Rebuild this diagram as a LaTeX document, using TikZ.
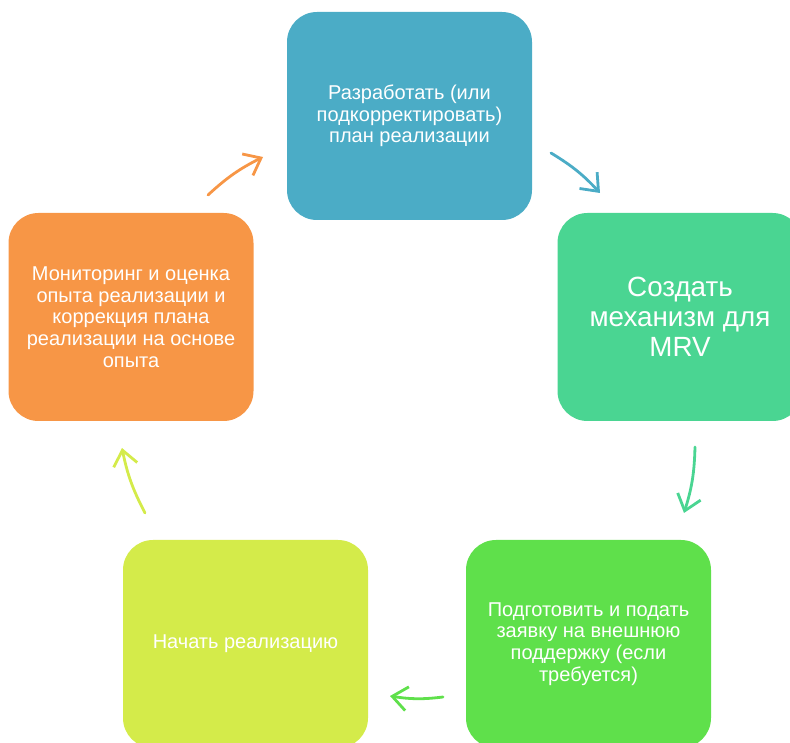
\documentclass[tikz,border=0pt]{standalone}
\usepackage{fontspec}
\setmainfont{Liberation Sans}
\usetikzlibrary{arrows.meta}
\definecolor{cblue}{HTML}{4BACC6}
\definecolor{cmrv}{HTML}{4AD592}
\definecolor{cgreen}{HTML}{5FE04B}
\definecolor{clime}{HTML}{D4EB4A}
\definecolor{corange}{HTML}{F79646}
\tikzset{
  stepbox/.style={rounded corners=30pt, minimum width=245pt, minimum height=208pt,
    inner sep=0pt, align=center, text=white, font=\fontsize{20}{21.7}\selectfont},
  cyc/.style={line width=2.8pt, line cap=round, line join=round,
    -{Straight Barb[length=15pt,width=24pt,line width=2.8pt]}, bend left=8}
}
\begin{document}
\begin{tikzpicture}[x=1pt,y=1pt]
\clip (0,0) rectangle (790,742);
\node[stepbox, fill=cblue] (plan) at (409.5,626) {Разработать (или\\подкорректировать)\\план реализации};
\node[stepbox, fill=cmrv, font=\fontsize{27.8}{30}\selectfont] (mrv) at (680,425) {Создать\\механизм для\\MRV};
\node[stepbox, fill=cgreen] (apply) at (588.5,98) {Подготовить и подать\\заявку на внешнюю\\поддержку (если\\требуется)};
\node[stepbox, fill=clime] (start) at (245.5,98) {Начать реализацию};
\node[stepbox, fill=corange] (mon) at (131,425) {Мониторинг и оценка\\опыта реализации и\\коррекция плана\\реализации на основе\\опыта};
\coordinate (a1s) at (551,589);
\coordinate (a1e) at (600,549);
\coordinate (a2s) at (695,295);
\coordinate (a2e) at (684,229);
\coordinate (a3s) at (443,45);
\coordinate (a3e) at (390,46);
\coordinate (a4s) at (145,229);
\coordinate (a4e) at (122,294);
\coordinate (a5s) at (208,547);
\coordinate (a5e) at (263,585);
\draw[cyc, cblue] (a1s) to (a1e);
\draw[cyc, cmrv] (a2s) to (a2e);
\draw[cyc, cgreen] (a3s) to (a3e);
\draw[cyc, clime] (a4s) to (a4e);
\draw[cyc, corange] (a5s) to (a5e);
\end{tikzpicture}
\end{document}
